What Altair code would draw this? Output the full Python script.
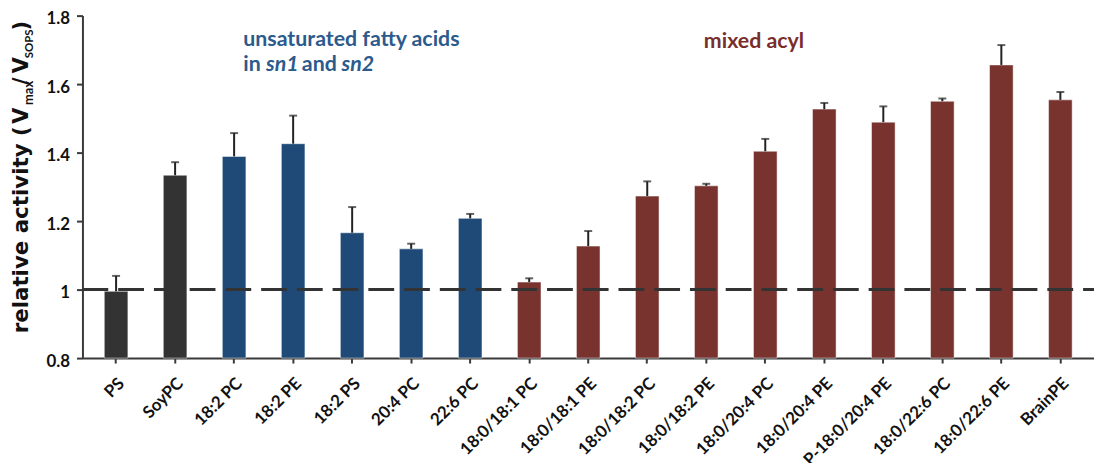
import altair as alt
import pandas as pd

categories = ["PS", "SoyPC", "18:2 PC", "18:2 PE", "18:2 PS", "20:4 PC", "22:6 PC",
              "18:0/18:1 PC", "18:0/18:1 PE", "18:0/18:2 PC", "18:0/18:2 PE",
              "18:0/20:4 PC", "18:0/20:4 PE", "P-18:0/20:4 PE", "18:0/22:6 PC",
              "18:0/22:6 PE", "BrainPE"]
values = [0.995, 1.334, 1.389, 1.426, 1.166, 1.119, 1.208, 1.022, 1.127, 1.273,
          1.303, 1.404, 1.527, 1.489, 1.550, 1.656, 1.554]
errors = [0.045, 0.038, 0.068, 0.082, 0.075, 0.015, 0.013, 0.011, 0.044, 0.043,
          0.006, 0.036, 0.018, 0.046, 0.008, 0.058, 0.023]
groups = ["control", "control"] + ["unsat"] * 5 + ["mixed"] * 10
group_domain = ["control", "unsat", "mixed"]
group_colors = ["#333333", "#1f4a78", "#78332e"]
y_ticks = [0.8, 1.0, 1.2, 1.4, 1.6, 1.8]

df = pd.DataFrame({"cat": categories, "val": values, "err": errors, "grp": groups})
df["top"] = df["val"] + df["err"]

FONT = "Lato"
TFONT = "DejaVu Sans"
AX = "#3a3a3a"

xenc = alt.X("cat:N", sort=categories,
             scale=alt.Scale(paddingInner=0.6, paddingOuter=0.37),
             axis=alt.Axis(title=None, labelAngle=-45, labelFont=FONT, labelFontWeight="bold",
                           labelFontSize=17, labelColor="#111", labelPadding=12, labelOffset=0,
                           tickSize=5, tickWidth=2, tickColor=AX, domainColor=AX, domainWidth=2,
                           labelLimit=300))
yscale = alt.Scale(domain=[0.8, 1.8], nice=False)

base = alt.Chart(df)
bars = base.mark_bar(stroke="white", strokeWidth=0.5).encode(
    x=xenc,
    y=alt.Y("val:Q", scale=yscale,
            axis=alt.Axis(title=None, values=y_ticks, format="~g", grid=False,
                          labelFont=FONT, labelFontWeight="bold", labelFontSize=17,
                          labelColor="#111", labelPadding=7, labelOffset=3, tickSize=6,
                          tickWidth=2, tickColor=AX, domainColor=AX, domainWidth=2)),
    y2=alt.datum(0.8),
    color=alt.Color("grp:N", scale=alt.Scale(domain=group_domain, range=group_colors), legend=None),
)
err_line = base.mark_rule(color="#222", strokeWidth=2).encode(
    x=alt.X("cat:N", sort=categories), y="val:Q", y2="top:Q")
err_cap = base.mark_tick(color="#222", size=8, thickness=2, orient="horizontal").encode(
    x=alt.X("cat:N", sort=categories), y="top:Q")
ref = alt.Chart(alt.Data(values=[{}])).mark_rule(color="#333", strokeWidth=3,
                                                  strokeDash=[26, 10]).encode(
    y=alt.datum(1.0), x=alt.value(0), x2=alt.value(1019))


def txt(text, x, y, size, color, style="normal", angle=0, weight="bold", font=FONT):
    return alt.Chart(alt.Data(values=[{}])).mark_text(
        text=text, font=font, fontSize=size, fontWeight=weight, fontStyle=style,
        color=color, align="left", baseline="alphabetic", angle=angle).encode(
        x=alt.value(x), y=alt.value(y))


BLUE = "#2c5a8c"
BROWN = "#7a2e2c"
annots = [
    txt("unsaturated fatty acids", 162, 31, 21.5, BLUE),
    txt("in", 162, 56, 21.5, BLUE),
    txt("sn1", 185, 56, 21.5, BLUE, style="italic"),
    txt("and", 221, 56, 21.5, BLUE),
    txt("sn2", 261, 56, 21.5, BLUE, style="italic"),
    txt("mixed acyl", 626, 33, 21.5, BROWN),
    # y-axis title pieces
    txt("relative activity (", -55, 320, 21.5, "#111", angle=270, font=TFONT),
    txt("V", -55, 109, 21, "#111", angle=270, font=TFONT),
    txt("max", -50, 90, 13, "#111", angle=270),
    txt("/", -55, 70, 21, "#111", angle=270, font=TFONT),
    txt("V", -55, 58, 21, "#111", angle=270, font=TFONT),
    txt("SOPS", -50, 43, 11.5, "#111", angle=270),
    txt(")", -55, 15, 21, "#111", angle=270, font=TFONT),
]

chart = alt.layer(bars, ref, err_line, err_cap, *annots).properties(
    width=1019, height=345,
    autosize=alt.AutoSizeParams(type="none"),
    padding={"left": 75, "top": 6, "right": 0, "bottom": 104},
).configure_view(stroke=None)

chart.save("out.html", embed_options={"renderer": "svg", "actions": False})
